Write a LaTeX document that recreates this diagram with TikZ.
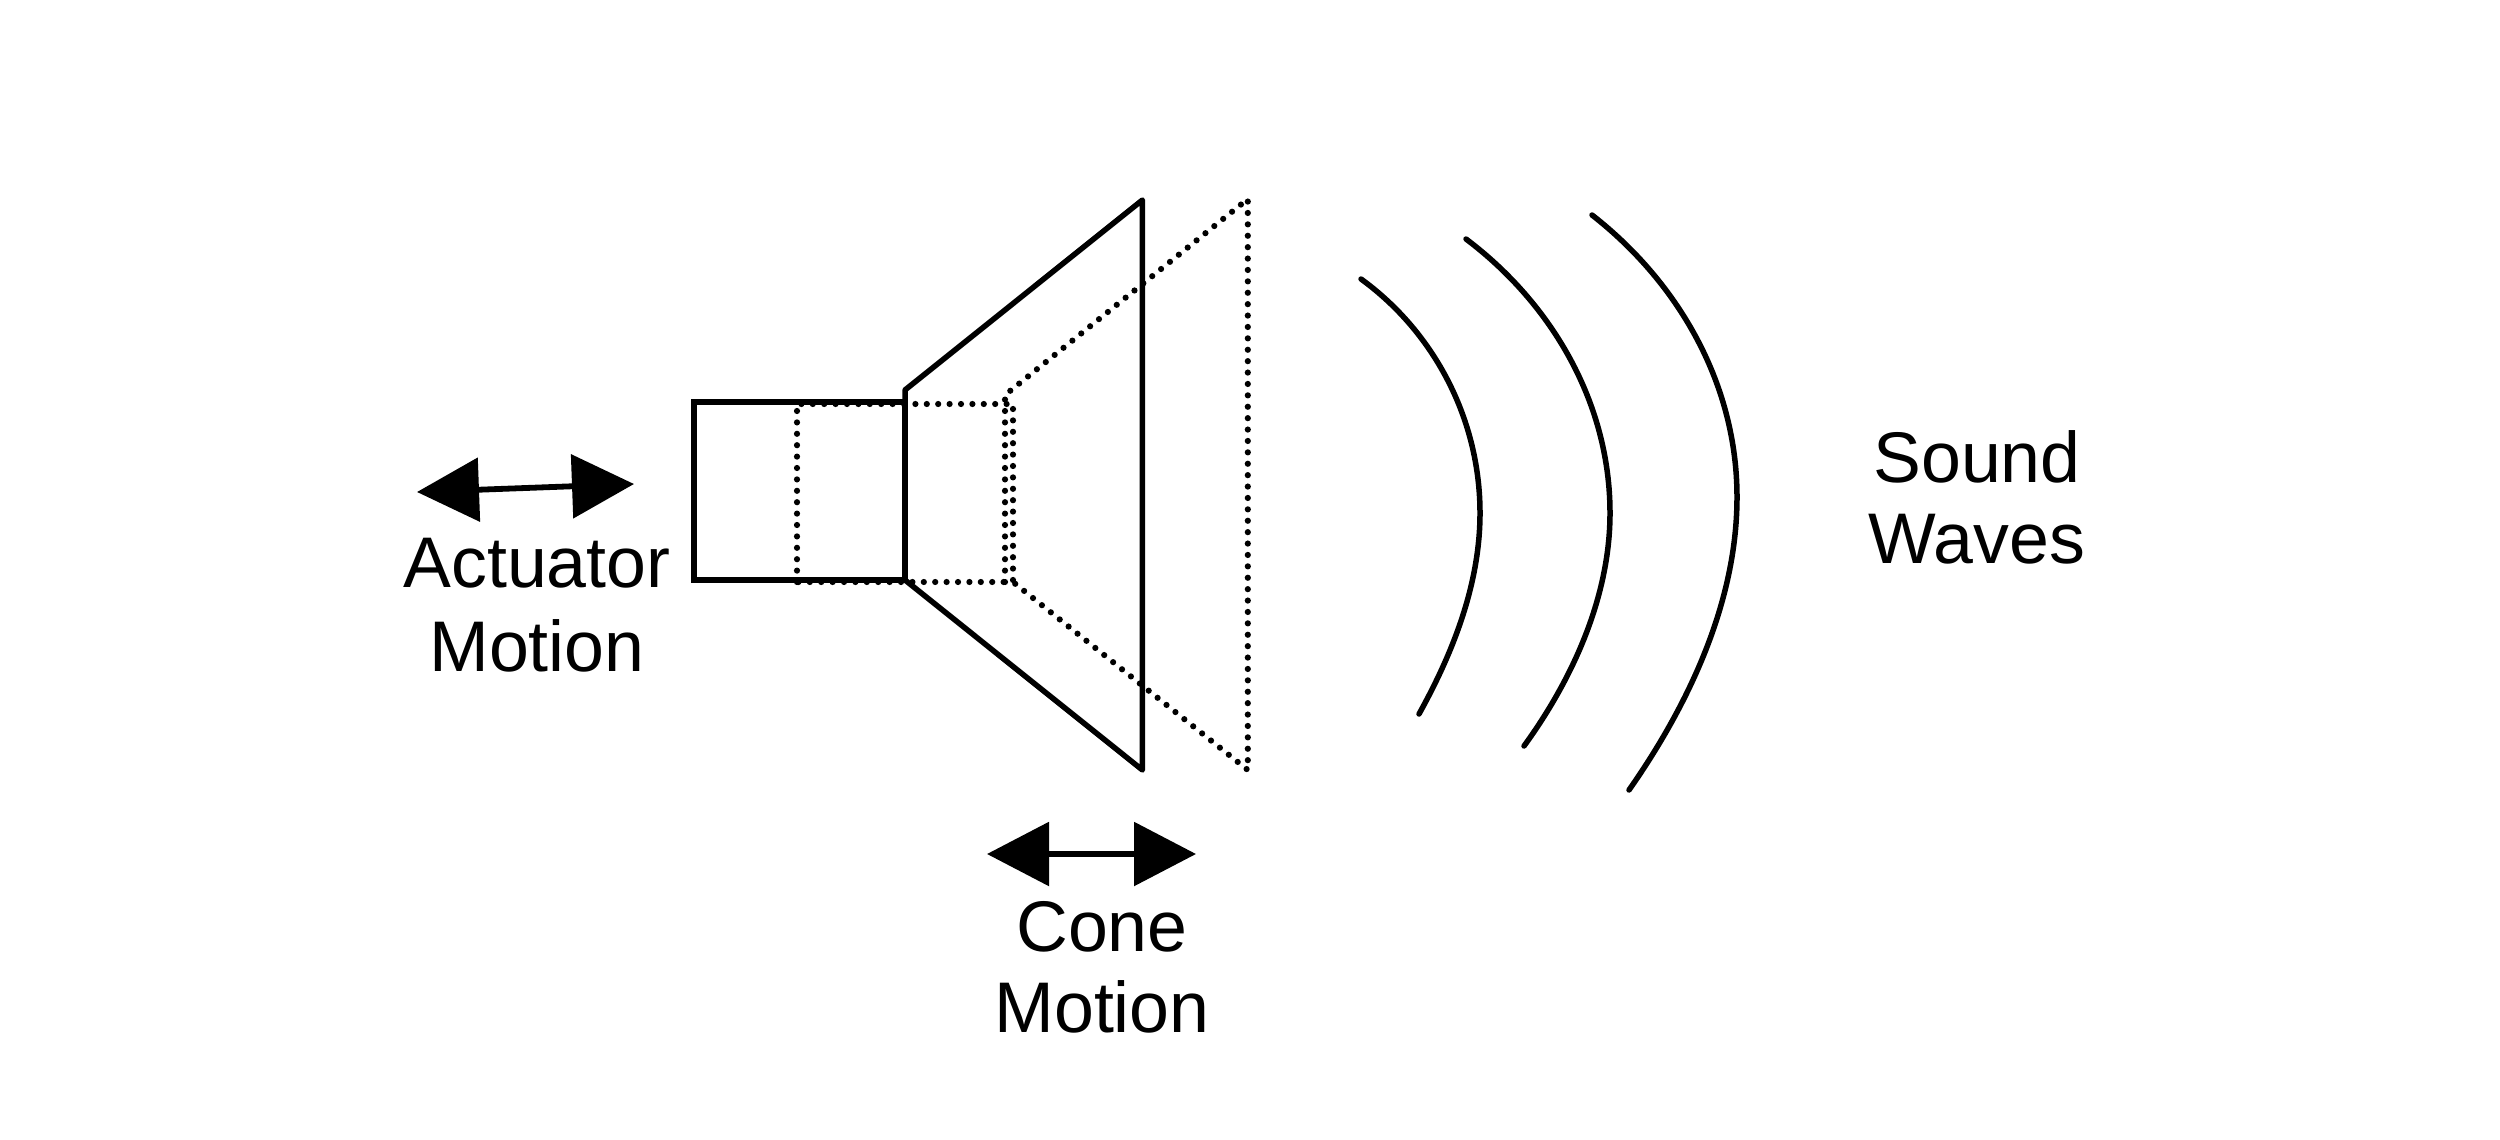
\documentclass[tikz,border=0pt]{standalone}
\usepackage{fontspec}
\setmainfont{Liberation Sans}
\usetikzlibrary{arrows.meta}
\tikzset{
  solidline/.style={line width=0.055cm},
  dotline/.style={line width=0.062cm,line cap=round,dash pattern=on 0pt off 0.114cm},
  motion/.style={{Triangle[length=0.62cm,width=0.63cm]}-{Triangle[length=0.62cm,width=0.63cm]},line width=0.058cm},
  lbl/.style={align=center,inner sep=0pt,font=\fontsize{20.4}{23}\selectfont}
}
\begin{document}
\begin{tikzpicture}
\useasboundingbox (0,0) rectangle (25,11.39);
% actuator and cone
\draw[solidline] (6.94,5.59) rectangle (9.05,7.37);
\draw[solidline,line join=round] (9.05,5.59) -- (9.05,7.49) -- (11.424,9.39) -- (11.424,3.69) -- cycle;
% displaced position
\draw[dotline] (7.97,5.57) rectangle (10.13,7.35);
\draw[dotline] (10.05,5.57) -- (10.05,7.44) -- (12.478,9.40) -- (12.478,3.69) -- (10.13,5.57);
% waves
\coordinate (w1a) at (13.61,8.60);
\coordinate (w1b) at (14.80,6.26);
\coordinate (w1c) at (14.19,4.25);
\coordinate (w2a) at (14.66,9.00);
\coordinate (w2b) at (16.10,6.26);
\coordinate (w2c) at (15.24,3.93);
\coordinate (w3a) at (15.92,9.24);
\coordinate (w3b) at (17.37,6.42);
\coordinate (w3c) at (16.29,3.49);
\draw[solidline,line cap=round] (w1a) to[out=-36,in=90,looseness=0.9] (w1b) to[out=-90,in=61,looseness=0.86] (w1c);
\draw[solidline,line cap=round] (w2a) to[out=-37,in=90,looseness=0.9] (w2b) to[out=-90,in=54,looseness=0.86] (w2c);
\draw[solidline,line cap=round] (w3a) to[out=-38,in=90,looseness=0.9] (w3b) to[out=-90,in=55,looseness=0.86] (w3c);
% motion arrows
\coordinate (actL) at (4.17,6.47);
\coordinate (actR) at (6.34,6.55);
\coordinate (coneL) at (9.87,2.85);
\coordinate (coneR) at (11.96,2.85);
\draw[motion] (actL) -- (actR);
\draw[motion] (coneL) -- (coneR);
\node[lbl] (actlabel) at (5.37,5.34) {Actuator\\[0.8pt]Motion};
\node[lbl] (conelabel) at (11.02,1.72) {Cone\\Motion};
\node[lbl] (soundlabel) at (19.77,6.42) {Sound\\Waves};
\end{tikzpicture}
\end{document}
